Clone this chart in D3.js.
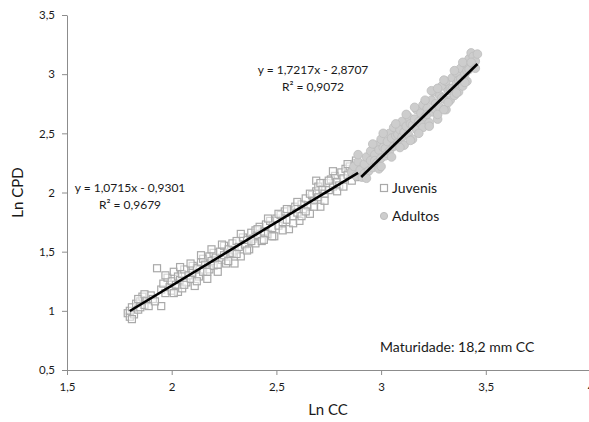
<!DOCTYPE html>
<html>
<head>
<meta charset="utf-8">
<script src="https://cdn.jsdelivr.net/npm/d3@7"></script>
<style>
  body { margin: 0; background: #fff; }
  svg text { font-family: Lato, "Open Sans", sans-serif; fill: #1a1a1a; }
</style>
</head>
<body>
<div id="chart"></div>
<script>
// values: [Ln CC, Ln CPD]
const juvenis = [
  [1.79,0.98],[1.80,0.95],[1.80,1.00],[1.81,1.03],[1.82,0.97],[1.83,1.06],[1.84,1.01],[1.85,1.08],
  [1.85,1.03],[1.86,1.12],[1.87,1.05],[1.88,1.09],[1.89,1.04],[1.90,1.13],[1.91,1.10],[1.93,1.36],
  [1.95,1.04],[1.95,1.18],[1.96,1.23],[1.97,1.15],[1.98,1.28],[1.99,1.20],[2.00,1.17],[2.00,1.25],
  [2.01,1.33],[2.02,1.22],[2.03,1.16],[2.03,1.29],[2.04,1.26],[2.05,1.31],[2.05,1.19],[2.06,1.35],
  [2.07,1.24],[2.08,1.30],[2.09,1.27],[2.10,1.38],[2.10,1.32],[2.11,1.21],[2.12,1.36],[2.13,1.29],
  [2.14,1.41],[2.15,1.33],[2.15,1.44],[2.16,1.39],[2.17,1.27],[2.18,1.46],[2.18,1.35],[2.19,1.42],
  [2.20,1.49],[2.20,1.38],[2.21,1.45],[2.22,1.33],[2.23,1.50],[2.24,1.43],[2.25,1.47],[2.25,1.55],
  [2.26,1.40],[2.27,1.52],[2.28,1.48],[2.29,1.57],[2.30,1.40],[2.30,1.51],[2.31,1.59],[2.32,1.54],
  [2.33,1.46],[2.34,1.62],[2.35,1.56],[2.36,1.60],[2.37,1.52],[2.38,1.66],[2.39,1.61],[2.40,1.57],
  [2.40,1.68],[2.41,1.64],[2.42,1.71],[2.43,1.59],[2.44,1.67],[2.45,1.73],[2.46,1.65],[2.47,1.76],
  [2.48,1.70],[2.49,1.63],[2.50,1.78],[2.51,1.72],[2.52,1.81],[2.53,1.75],[2.54,1.84],[2.55,1.77],
  [2.56,1.69],[2.57,1.85],[2.58,1.80],[2.59,1.88],[2.60,1.83],[2.61,1.76],[2.62,1.90],[2.63,1.86],
  [2.64,1.95],[2.65,1.89],[2.66,1.82],[2.67,1.98],[2.68,1.93],[2.69,2.01],[2.69,2.10],[2.70,1.96],
  [2.70,2.05],[2.71,1.88],[2.72,2.03],[2.73,1.99],[2.74,2.08],[2.75,2.02],[2.76,2.11],[2.77,2.05],
  [2.78,2.14],[2.79,2.09],[2.80,2.06],[2.81,2.17],[2.82,2.12],[2.83,2.20],[2.84,2.15],[2.85,2.22],
  [2.86,2.10],[2.87,2.18],[2.88,2.25],[2.88,2.27],[2.89,2.21],[2.90,2.16],
  [1.81,0.93],[1.84,1.10],[1.87,1.14],[1.92,1.08],[1.97,1.30],[2.01,1.15],[2.04,1.37],[2.06,1.22],
  [2.09,1.40],[2.12,1.25],[2.14,1.47],[2.17,1.33],[2.19,1.52],[2.22,1.39],[2.24,1.56],[2.27,1.42],
  [2.29,1.49],[2.31,1.48],[2.33,1.65],[2.36,1.51],[2.38,1.59],[2.41,1.69],[2.44,1.60],[2.46,1.78],
  [2.48,1.63],[2.51,1.82],[2.53,1.68],[2.55,1.86],[2.58,1.74],[2.60,1.92],[2.62,1.80],[2.64,1.84],
  [2.66,1.99],[2.68,1.88],[2.71,2.08],[2.73,1.93],[2.75,2.10],[2.77,2.18],[2.79,2.01],[2.82,2.05],
  [2.84,2.24],[2.86,2.17],[2.89,2.13],[2.91,2.23]
];

const adultos = [
  [2.86,2.17],[2.87,2.22],[2.88,2.14],[2.89,2.26],[2.90,2.19],[2.91,2.13],[2.92,2.24],[2.92,2.16],
  [2.93,2.30],[2.94,2.18],[2.95,2.27],[2.95,2.35],[2.96,2.21],[2.97,2.32],[2.97,2.27],[2.98,2.40],
  [2.98,2.25],[2.99,2.36],[2.99,2.20],[3.00,2.29],[3.00,2.45],[3.01,2.38],[3.02,2.31],[3.02,2.37],
  [3.03,2.43],[3.03,2.33],[3.04,2.50],[3.04,2.35],[3.05,2.46],[3.06,2.39],[3.06,2.55],[3.07,2.48],
  [3.08,2.42],[3.08,2.49],[3.09,2.53],[3.10,2.47],[3.10,2.60],[3.11,2.40],[3.11,2.51],[3.12,2.56],
  [3.13,2.49],[3.13,2.64],[3.14,2.58],[3.15,2.45],[3.15,2.57],[3.16,2.62],[3.17,2.53],[3.17,2.70],
  [3.18,2.60],[3.19,2.67],[3.19,2.58],[3.20,2.55],[3.20,2.74],[3.21,2.64],[3.22,2.71],[3.22,2.66],
  [3.23,2.59],[3.24,2.78],[3.25,2.68],[3.25,2.85],[3.26,2.75],[3.26,2.70],[3.27,2.62],[3.28,2.82],
  [3.28,2.72],[3.29,2.90],[3.29,2.80],[3.30,2.79],[3.31,2.70],[3.31,2.94],[3.32,2.86],[3.33,2.78],
  [3.33,2.88],[3.34,2.97],[3.34,2.88],[3.35,2.82],[3.36,3.01],[3.36,2.92],[3.37,2.85],[3.37,2.95],
  [3.38,3.05],[3.38,2.96],[3.39,2.90],[3.40,3.09],[3.40,3.00],[3.41,2.94],[3.41,3.03],[3.42,3.13],
  [3.42,3.04],[3.43,3.18],[3.44,3.08],[3.44,3.15],[3.45,3.11],[3.46,3.17],
  [2.89,2.32],[2.93,2.12],[2.96,2.41],[3.00,2.22],[3.01,2.50],[3.05,2.30],[3.07,2.58],[3.09,2.38],
  [3.12,2.66],[3.14,2.44],[3.16,2.72],[3.18,2.50],[3.21,2.78],[3.23,2.56],[3.24,2.86],[3.27,2.66],
  [3.27,2.88],[3.30,2.70],[3.30,2.95],[3.32,2.76],[3.35,3.03],[3.36,2.84],[3.39,3.10],[3.40,2.93],
  [3.43,3.10],[3.45,3.05]
];

// trend lines as printed on the chart
const trendJuvenis = {a: 1.0715, b: -0.9301, from: 1.80, to: 2.89, eq: 'y = 1,0715x - 0,9301', r2: 'R² = 0,9679'};
const trendAdultos = {a: 1.7217, b: -2.8707, from: 2.905, to: 3.46, eq: 'y = 1,7217x - 2,8707', r2: 'R² = 0,9072'};

const xTicks = [1.5, 2, 2.5, 3, 3.5, 4];
const yTicks = [0.5, 1, 1.5, 2, 2.5, 3, 3.5];

const W = 589, H = 422;
const comma = d => String(d).replace('.', ',');

const svg = d3.select('#chart').append('svg')
    .attr('width', W).attr('height', H);

const x = d3.scaleLinear().domain([1.5, 4]).range([67, 590.5]);
const y = d3.scaleLinear().domain([0.5, 3.5]).range([370, 15]);

function styleAxis(g) {
    g.select('.domain').attr('stroke', '#8c8c8c');
    g.selectAll('.tick line').attr('stroke', '#8c8c8c');
    g.selectAll('.tick text').attr('font-size', 11.5).attr('fill', '#1a1a1a')
        .style('font-family', 'Lato, "Open Sans", sans-serif');
}

svg.append('g')
    .attr('transform', `translate(0,${y(0.5)})`)
    .call(d3.axisBottom(x).tickValues(xTicks).tickFormat(comma).tickSize(5).tickSizeOuter(0).tickPadding(8))
    .call(styleAxis);

svg.append('g')
    .attr('transform', `translate(${x(1.5)},0)`)
    .call(d3.axisLeft(y).tickValues(yTicks).tickFormat(comma).tickSize(5).tickSizeOuter(0).tickPadding(7))
    .call(styleAxis);

// markers
const sq = 7;
svg.append('g').selectAll('rect')
    .data(juvenis)
    .join('rect')
    .attr('x', d => x(d[0]) - sq / 2)
    .attr('y', d => y(d[1]) - sq / 2)
    .attr('width', sq).attr('height', sq)
    .attr('fill', '#fff').attr('fill-opacity', 0.5)
    .attr('stroke', '#a9a9a9').attr('stroke-width', 1.2);

svg.append('g').selectAll('circle')
    .data(adultos)
    .join('circle')
    .attr('cx', d => x(d[0]))
    .attr('cy', d => y(d[1]))
    .attr('r', 4.3)
    .attr('fill', '#cdcdcd')
    .attr('stroke', '#bdbdbd').attr('stroke-width', 0.8);

// trend lines
[trendJuvenis, trendAdultos].forEach(t => {
    svg.append('line')
        .attr('x1', x(t.from)).attr('y1', y(t.a * t.from + t.b))
        .attr('x2', x(t.to)).attr('y2', y(t.a * t.to + t.b))
        .attr('stroke', '#000').attr('stroke-width', 2.6);
});

// equation labels
function eqLabel(t, cx, cy) {
    svg.append('text').attr('x', cx).attr('y', cy)
        .attr('text-anchor', 'middle').attr('font-size', 12).text(t.eq);
    svg.append('text').attr('x', cx).attr('y', cy + 17)
        .attr('text-anchor', 'middle').attr('font-size', 12).text(t.r2);
}
eqLabel(trendJuvenis, 130, 192);
eqLabel(trendAdultos, 313, 74);

// legend
const legend = svg.append('g');
legend.append('rect').attr('x', 380.5).attr('y', 184.5).attr('width', 7).attr('height', 7)
    .attr('fill', '#fff').attr('stroke', '#a9a9a9').attr('stroke-width', 1.2);
legend.append('text').attr('x', 392).attr('y', 193).attr('font-size', 14).text('Juvenis');
legend.append('circle').attr('cx', 384).attr('cy', 216).attr('r', 3.6)
    .attr('fill', '#cdcdcd').attr('stroke', '#bdbdbd');
legend.append('text').attr('x', 392).attr('y', 221).attr('font-size', 14).text('Adultos');

svg.append('text').attr('x', 380).attr('y', 352).attr('font-size', 14)
    .text('Maturidade: 18,2 mm CC');

// axis titles
svg.append('text').attr('x', 328).attr('y', 415)
    .attr('text-anchor', 'middle').attr('font-size', 15).text('Ln CC');
svg.append('text')
    .attr('transform', `translate(23,${y(2)}) rotate(-90)`)
    .attr('text-anchor', 'middle').attr('font-size', 15).text('Ln CPD');
</script>
</body>
</html>
